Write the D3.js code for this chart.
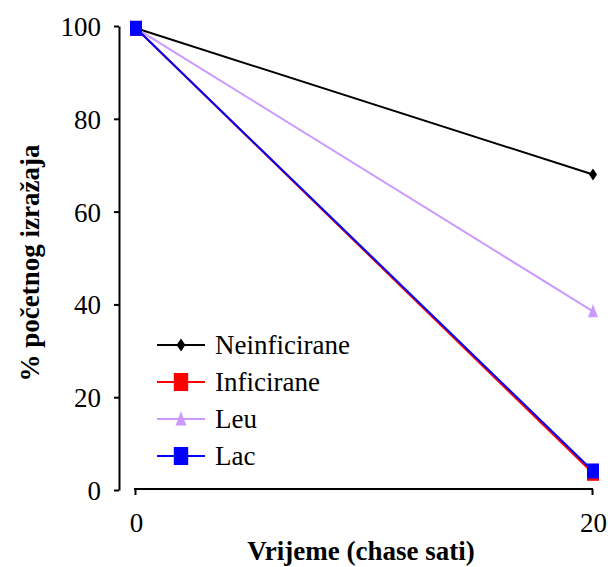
<!DOCTYPE html>
<html>
<head>
<meta charset="utf-8">
<script src="https://cdn.jsdelivr.net/npm/d3@7"></script>
<style>
  html, body { margin: 0; padding: 0; background: #fff; }
</style>
</head>
<body>
<svg id="chart" width="608" height="567"></svg>
<script>
const times = [0, 20];
const seriesNames = ["Neinficirane", "Inficirane", "Leu", "Lac"];
const neinficirane = [99.5, 68];
const inficirane = [99.5, 3.6];
const leu = [99.5, 38.5];
const lac = [99.5, 4.1];
const yTicks = [0, 20, 40, 60, 80, 100];
const xTicks = [0, 20];
const xTitle = "Vrijeme (chase sati)";
const yTitle = "% početnog izražaja";

const series = [
  { name: seriesNames[0], values: neinficirane, color: "#000000", marker: "diamond" },
  { name: seriesNames[1], values: inficirane, color: "#FF0000", marker: "square" },
  { name: seriesNames[2], values: leu, color: "#CC99FF", marker: "triangle" },
  { name: seriesNames[3], values: lac, color: "#0000FF", marker: "square" }
];

function styleText(sel, bold) {
  sel.style("font-family", "Liberation Serif")
     .style("font-size", "27px")
     .style("font-weight", bold ? "bold" : "normal")
     .style("fill", "#000");
}
// put the label inside a tspan carrying the font as well
function setLabel(sel, bold) {
  sel.each(function () {
    const t = d3.select(this);
    const txt = t.text();
    t.text(null);
    t.call(styleText, bold);
    t.append("tspan").call(styleText, bold).text(txt);
  });
}

const svg = d3.select("#chart");
const x = d3.scaleLinear().domain([0, 20]).range([136, 593]);
const y = d3.scaleLinear().domain([0, 100]).range([490, 26]);

// Y axis (offset left)
const gy = svg.append("g").attr("transform", "translate(119,0)")
  .call(d3.axisLeft(y).tickValues(yTicks).tickSize(5).tickSizeOuter(0).tickPadding(13).tickFormat(d3.format("d")));
gy.attr("font-family", null).attr("font-size", null);
gy.select(".domain").attr("stroke", "#000").attr("stroke-width", 2);
gy.selectAll(".tick line").attr("stroke", "#000").attr("stroke-width", 2);
gy.selectAll(".tick text").attr("dy", "0.35em").call(setLabel, false);

// X axis (offset down)
const gx = svg.append("g").attr("transform", "translate(0,489)")
  .call(d3.axisBottom(x).tickValues(xTicks).tickSize(6).tickSizeOuter(0).tickPadding(18).tickFormat(d3.format("d")));
gx.attr("font-family", null).attr("font-size", null);
gx.select(".domain").attr("stroke", "#000").attr("stroke-width", 2).attr("d", "M" + (x(0) - 2) + ",0H" + x(20));
gx.selectAll(".tick line").attr("stroke", "#000").attr("stroke-width", 2).attr("transform", "translate(-1,0)");
gx.selectAll(".tick text").call(setLabel, false);

// Titles
svg.append("text").attr("x", 361).attr("y", 560).attr("text-anchor", "middle")
  .text(xTitle).call(setLabel, true);
svg.append("text").attr("transform", "translate(39,263) rotate(-90)").attr("text-anchor", "middle")
  .text(yTitle).call(setLabel, true);

function markerPath(type, s) {
  if (type === "diamond") return "M0," + (-6 * s) + "L" + (4 * s) + ",0L0," + (6 * s) + "L" + (-4 * s) + ",0Z";
  if (type === "triangle") return "M0," + (-7 * s) + "L" + (5 * s) + "," + (6 * s) + "L" + (-5 * s) + "," + (6 * s) + "Z";
  return "M" + (-6 * s) + "," + (-7.5 * s) + "H" + (6 * s) + "V" + (7.5 * s) + "H" + (-6 * s) + "Z";
}

const line = d3.line().x((d, i) => x(times[i])).y(d => y(d));
const drawOrder = [0, 2, 1, 3];
drawOrder.forEach(k => {
  const s = series[k];
  svg.append("path").datum(s.values).attr("d", line).attr("fill", "none")
    .attr("stroke", s.color).attr("stroke-width", 2);
});
drawOrder.forEach(k => {
  const s = series[k];
  svg.selectAll(null).data(s.values).enter().append("path")
    .attr("transform", (d, i) => "translate(" + x(times[i]) + "," + y(d) + ")")
    .attr("d", markerPath(s.marker, 1)).attr("fill", s.color);
});

// Legend
const legend = svg.append("g");
series.forEach((s, i) => {
  const ly = 345 + i * 37;
  legend.append("line").attr("x1", 157).attr("x2", 205).attr("y1", ly).attr("y2", ly)
    .attr("stroke", s.color).attr("stroke-width", 2);
  legend.append("path").attr("transform", "translate(181," + ly + ")")
    .attr("d", markerPath(s.marker, s.marker === "square" ? 1.2 : 1.1)).attr("fill", s.color);
  legend.append("text").attr("x", 215).attr("y", ly + 9).text(s.name).call(setLabel, false);
});
</script>
</body>
</html>
